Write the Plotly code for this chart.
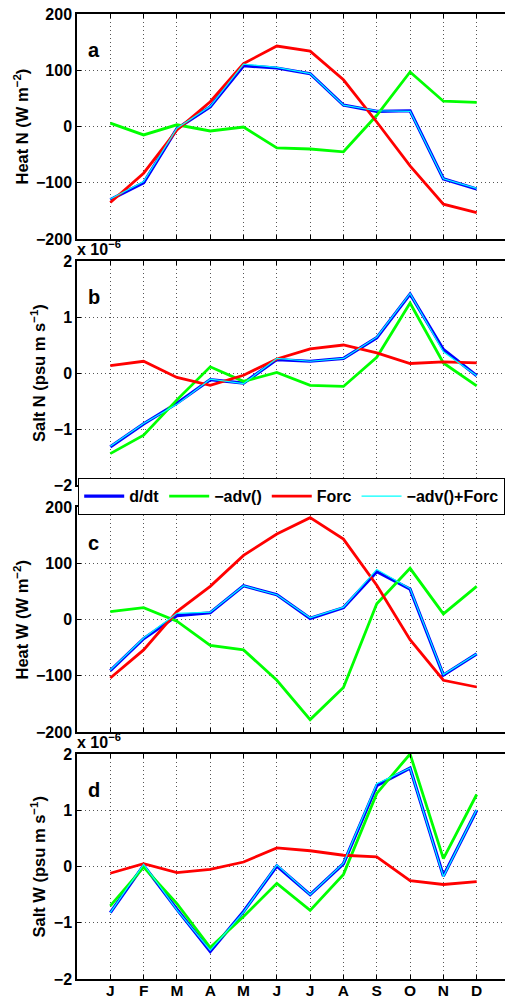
import plotly.graph_objects as go

months = ["J", "F", "M", "A", "M", "J", "J", "A", "S", "O", "N", "D"]
mx = list(range(1, 13))

# Panel a: Heat N (W m^-2)
heatN_ddt = [-130, -100, -4, 35, 108, 104, 94, 38, 27, 28, -93, -111]
heatN_adv = [6, -15, 3, -8, -1, -38, -40, -45, 20, 97, 45, 43]
heatN_forc = [-135, -83, -6, 44, 112, 143, 134, 83, 8, -70, -138, -153]
heatN_sum = [-129, -98, -3, 36, 111, 105, 94, 38, 28, 27, -93, -110]

# Panel b: Salt N (x 1e-6 psu m s^-1)
saltN_ddt = [-1.32, -0.91, -0.54, -0.12, -0.18, 0.24, 0.21, 0.26, 0.63, 1.41, 0.42, -0.05]
saltN_adv = [-1.44, -1.11, -0.48, 0.11, -0.15, 0.01, -0.22, -0.24, 0.28, 1.25, 0.18, -0.23]
saltN_forc = [0.13, 0.21, -0.08, -0.22, -0.04, 0.25, 0.43, 0.50, 0.36, 0.17, 0.20, 0.18]
saltN_sum = [-1.31, -0.90, -0.56, -0.11, -0.19, 0.26, 0.21, 0.26, 0.64, 1.42, 0.38, -0.05]

# Panel c: Heat W (W m^-2)
heatW_ddt = [-91, -34, 7, 12, 60, 44, 2, 21, 85, 54, -99, -61]
heatW_adv = [14, 21, -3, -46, -54, -108, -178, -121, 28, 91, 10, 59]
heatW_forc = [-104, -54, 14, 59, 114, 152, 181, 143, 61, -36, -108, -120]
heatW_sum = [-90, -33, 11, 13, 60, 44, 3, 22, 89, 55, -98, -61]

# Panel d: Salt W (x 1e-6 psu m s^-1)
saltW_ddt = [-0.82, 0.02, -0.76, -1.51, -0.80, 0.01, -0.50, 0.05, 1.44, 1.75, -0.17, 1.00]
saltW_adv = [-0.70, -0.01, -0.66, -1.44, -0.89, -0.30, -0.78, -0.14, 1.30, 2.00, 0.14, 1.28]
saltW_forc = [-0.12, 0.05, -0.11, -0.05, 0.08, 0.33, 0.28, 0.20, 0.17, -0.25, -0.32, -0.27]
saltW_sum = [-0.82, 0.04, -0.77, -1.49, -0.81, 0.03, -0.50, 0.06, 1.47, 1.75, -0.18, 1.01]

panels = [
    (heatN_ddt, heatN_adv, heatN_forc, heatN_sum),
    (saltN_ddt, saltN_adv, saltN_forc, saltN_sum),
    (heatW_ddt, heatW_adv, heatW_forc, heatW_sum),
    (saltW_ddt, saltW_adv, saltW_forc, saltW_sum),
]
letters = ["a", "b", "c", "d"]
ytitles = ["Heat N (W m<sup>−2</sup>)", "Salt N (psu m s<sup>−1</sup>)",
           "Heat W (W m<sup>−2</sup>)", "Salt W (psu m s<sup>−1</sup>)"]
heat_ticks = [-200, -100, 0, 100, 200]
salt_ticks = [-2, -1, 0, 1, 2]
names = ["d/dt", "−adv()", "Forc", "−adv()+Forc"]
colors = ["#0000ff", "#00ff00", "#ff0000", "#00ffff"]
widths = [3.2, 2.8, 2.8, 1.2]

W, H = 505, 1001
ptops = [14, 261, 507, 754]
pbots = [239, 485, 732, 979]
xl = 77 / W

FONT = "Liberation Sans, Arial, Helvetica, sans-serif"

fig = go.Figure()
for i, series in enumerate(panels):
    ax = "" if i == 0 else str(i + 1)
    for j, ys in enumerate(series):
        fig.add_trace(go.Scatter(
            x=mx, y=ys, mode="lines", name=names[j],
            line=dict(color=colors[j], width=widths[j]),
            xaxis="x" + ax, yaxis="y" + ax, showlegend=(i == 0),
        ))

layout = dict(
    template="none",
    width=W, height=H, margin=dict(l=0, r=0, t=0, b=0, pad=0, autoexpand=False),
    paper_bgcolor="white", plot_bgcolor="white",
    font=dict(family=FONT, size=15, color="black"),
    showlegend=True,
    legend=dict(
        orientation="h", x=1.0, y=1 - 478 / H, xanchor="right", yanchor="top",
        bgcolor="white", bordercolor="black", borderwidth=1.2,
        font=dict(family=FONT, size=16, color="black", weight="bold"),
        tracegroupgap=0, itemwidth=40,
    ),
)

annotations = []
for i in range(4):
    ax = "" if i == 0 else str(i + 1)
    heat = i in (0, 2)
    tv = heat_ticks if heat else salt_ticks
    rng = [-200, 200] if heat else [-2, 2]
    dom = [1 - pbots[i] / H, 1 - ptops[i] / H]
    layout["xaxis" + ax] = dict(
        domain=[xl, 1.0], range=[0, 12.85], anchor="y" + ax, automargin=False,
        tickvals=mx, ticktext=months, showticklabels=(i == 3),
        ticks="inside", ticklen=4, tickcolor="black", ticklabelstandoff=-3,
        showline=True, linecolor="black", linewidth=1.5, mirror="ticks",
        showgrid=True, gridcolor="#555", griddash="1px,3px", gridwidth=1,
        zeroline=False,
        tickfont=dict(family=FONT, size=15.5, color="black", weight="bold"),
    )
    layout["yaxis" + ax] = dict(
        domain=dom, range=rng, anchor="x" + ax, automargin=False,
        tickvals=tv, ticktext=[str(v).replace("-", "−") for v in tv],
        ticks="inside", ticklen=4, tickcolor="black",
        showline=True, linecolor="black", linewidth=1.5,
        showgrid=True, gridcolor="#555", griddash="1px,3px", gridwidth=1,
        zeroline=False,
        tickfont=dict(family=FONT, size=16, color="black", weight="bold"),
    )
    # y-axis title
    xc = 21 if heat else 38
    yc = (ptops[i] + pbots[i]) / 2
    annotations.append(dict(
        text=ytitles[i], xref="paper", yref="paper", x=xc / W, y=1 - yc / H,
        xanchor="center", yanchor="middle", textangle=-90, showarrow=False,
        font=dict(family=FONT, size=16.5, color="black", weight="bold"),
    ))
    # panel letter
    annotations.append(dict(
        text=letters[i], xref="paper", yref="paper", x=86 / W, y=1 - (ptops[i] + 36) / H,
        xanchor="left", yanchor="middle", showarrow=False,
        font=dict(family=FONT, size=20, color="black", weight="bold"),
    ))
    if not heat:
        annotations.append(dict(
            text="x 10<sup>−6</sup>", xref="paper", yref="paper", x=75 / W,
            y=1 - (ptops[i] - 1) / H, xanchor="left", yanchor="bottom", showarrow=False,
            font=dict(family=FONT, size=16, color="black", weight="bold"),
        ))

layout["annotations"] = annotations
fig.update_layout(**layout)
fig.write_html("out.html")
